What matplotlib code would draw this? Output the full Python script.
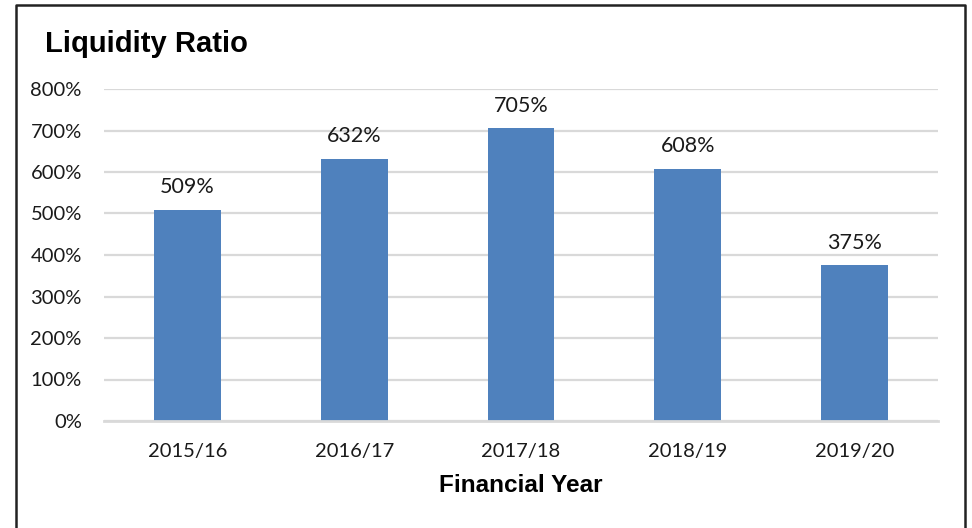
import matplotlib
matplotlib.use("Agg")
import matplotlib.pyplot as plt
from matplotlib.lines import Line2D
from matplotlib.ticker import FuncFormatter

# Liquidity ratio by financial year (percent)
years = ["2015/16", "2016/17", "2017/18", "2018/19", "2019/20"]
ratio_pct = [509, 632, 705, 608, 375]
y_ticks = [0, 100, 200, 300, 400, 500, 600, 700, 800]

BAR_BLUE  = "#4F81BD"
GRID_GREY = "#D9D9D9"
TEXT_DARK = "#1a1a1a"

W, H = 972, 528
fig = plt.figure(figsize=(W / 100, H / 100), dpi=100)
fig.patch.set_facecolor("white")

ax = fig.add_axes([104 / W, 1 - 421 / H, (938 - 104) / W, (421 - 89) / H])

x = range(len(years))
bars = ax.bar(x, ratio_pct, width=0.4, color=BAR_BLUE, zorder=3)

ax.set_ylim(0, 800)
ax.set_xlim(-0.5, len(years) - 0.5)
ax.set_yticks(y_ticks)
ax.yaxis.set_major_formatter(FuncFormatter(lambda v, _: f"{v:.0f}%"))
ax.set_xticks(list(x))
ax.set_xticklabels(years)

ax.grid(axis="y", color=GRID_GREY, linewidth=1.6, zorder=0)
for side in ["top", "right", "left"]:
    ax.spines[side].set_visible(False)
ax.spines["bottom"].set_color(GRID_GREY)
ax.spines["bottom"].set_linewidth(2)
ax.spines["bottom"].set_zorder(4)

ax.tick_params(axis="both", length=0, labelcolor=TEXT_DARK)
ax.tick_params(axis="y", pad=16, labelsize=14.5)
ax.tick_params(axis="x", pad=16, labelsize=14.5)
for lbl in ax.get_xticklabels() + ax.get_yticklabels():
    lbl.set_family("Lato")

# value labels above each bar
for rect, val in zip(bars, ratio_pct):
    ax.annotate(f"{val}%", (rect.get_x() + rect.get_width() / 2, val),
                xytext=(0, 9), textcoords="offset points",
                ha="center", va="bottom", fontsize=15.5, family="Lato",
                color=TEXT_DARK)

fig.text(45 / W, 1 - 52 / H, "Liquidity Ratio", fontsize=21, fontweight="bold",
         family="Liberation Sans", color="black", va="baseline", ha="left")
fig.text(521 / W, 1 - 486 / H, "Financial Year", fontsize=17.5, fontweight="bold",
         family="Liberation Sans", color="black", va="center", ha="center")

# outer chart frame (open at the bottom)
frame_x = [16 / W, 16 / W, 965 / W, 965 / W]
frame_y = [0, 1 - 5 / H, 1 - 5 / H, 0]
fig.add_artist(Line2D(frame_x, frame_y, transform=fig.transFigure,
                      color="#222222", linewidth=1.8))

fig.savefig("out.png", dpi=100)
